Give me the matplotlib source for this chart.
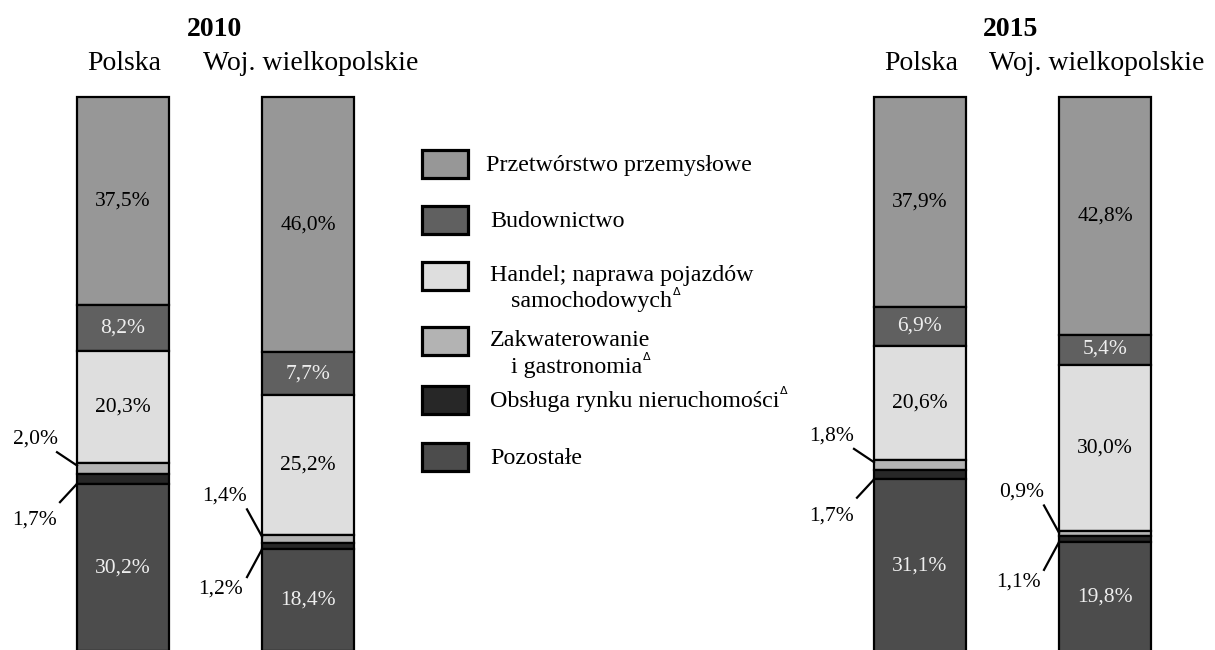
import matplotlib
matplotlib.use("Agg")
import matplotlib.pyplot as plt
from matplotlib.patches import Rectangle

plt.rcParams['font.family'] = ['Liberation Serif', 'DejaVu Serif']

# ------------------------------------------------------------
# Data (shares of employment, %)
# ------------------------------------------------------------
SECTORS = ['Przetwórstwo przemysłowe', 'Budownictwo',
           'Handel; naprawa pojazdów samochodowych',
           'Zakwaterowanie i gastronomia',
           'Obsługa rynku nieruchomości', 'Pozostałe']

YEARS = ['2010', '2015']
REGIONS = ['Polska', 'Woj. wielkopolskie']

POLSKA_2010 = [37.5, 8.2, 20.3, 2.0, 1.7, 30.2]
WOJ_2010 = [46.0, 7.7, 25.2, 1.4, 1.2, 18.4]
POLSKA_2015 = [37.9, 6.9, 20.6, 1.8, 1.7, 31.1]
WOJ_2015 = [42.8, 5.4, 30.0, 0.9, 1.1, 19.8]

# legend text, split as in the original (second line indented)
LEGEND_LINES = [
    ['Przetwórstwo przemysłowe'],
    ['Budownictwo'],
    ['Handel; naprawa pojazdów', 'samochodowych'],
    ['Zakwaterowanie', 'i gastronomia'],
    ['Obsługa rynku nieruchomości'],
    ['Pozostałe'],
]
LEGEND_DELTA = [False, False, True, True, True, False]

# ------------------------------------------------------------
# Styles / layout
# ------------------------------------------------------------
COLORS = ['#979797', '#606060', '#dedede', '#b3b3b3', '#272727', '#4c4c4c']
LABEL_COLORS = ['black', '#eeeeee', 'black', 'black', 'black', '#eeeeee']

W, H = 1215, 650
BAR_W = 92
BAR_TOP_PX = 97
PX_PER_PCT = 5.55

bars = [
    (123, POLSKA_2010, 'pl'),
    (308, WOJ_2010, 'woj'),
    (920, POLSKA_2015, 'pl'),
    (1105, WOJ_2015, 'woj'),
]

# leader-line layout (x offsets in px from bar left edge, y offsets in %)
LEADER = {
    'pl':  dict(up_text=(-42, -4.3), up_start=(-20, -2.0), up_end=(0, 0.4),
                lo_text=(-42, 6.6), lo_start=(-17, 3.3)),
    'woj': dict(up_text=(-37, -7.0), up_start=(-15, -4.6), up_end=(0, 0.3),
                lo_text=(-41, 7.2), lo_start=(-15, 5.0)),
}


def pct(v):
    return f"{v:.1f}".replace('.', ',') + '%'


def fy(py):
    return 1 - py / H


fig = plt.figure(figsize=(W / 100, H / 100), dpi=100)
ax = fig.add_axes([0, 0, 1, 1])
ax.set_xlim(0, W)
# y = cumulative percent from the top of the bar, axis inverted
ax.set_ylim((H - BAR_TOP_PX) / PX_PER_PCT, -BAR_TOP_PX / PX_PER_PCT)
ax.axis('off')

for xc, vals, kind in bars:
    cum = 0.0
    tops = []
    for i, v in enumerate(vals):
        ax.bar(xc, v, bottom=cum, width=BAR_W, color=COLORS[i],
               edgecolor='black', linewidth=1.6, zorder=2)
        tops.append(cum)
        if i not in (3, 4):
            ax.text(xc, cum + v / 2, pct(v), ha='center', va='center',
                    fontsize=15.5, color=LABEL_COLORS[i], zorder=3)
        cum += v

    # external labels for the two thin segments
    left = xc - BAR_W / 2
    lay = LEADER[kind]
    zt = tops[3]
    ob = tops[4] + vals[4]
    ax.plot([left + lay['up_start'][0], left + lay['up_end'][0]],
            [zt + lay['up_start'][1], zt + lay['up_end'][1]],
            color='black', lw=1.6, zorder=3, clip_on=False)
    ax.text(left + lay['up_text'][0], zt + lay['up_text'][1], pct(vals[3]),
            ha='center', va='center', fontsize=15.5)
    ax.plot([left + lay['lo_start'][0], left],
            [ob + lay['lo_start'][1], ob],
            color='black', lw=1.6, zorder=3, clip_on=False)
    ax.text(left + lay['lo_text'][0], ob + lay['lo_text'][1], pct(vals[4]),
            ha='center', va='center', fontsize=15.5)

# headings
fig.text(214 / W, fy(36.5), YEARS[0], ha='center', va='baseline',
         fontsize=20, fontweight='bold')
fig.text(1011 / W, fy(36.5), YEARS[1], ha='center', va='baseline',
         fontsize=20, fontweight='bold')
for xc, name in [(124, REGIONS[0]), (311, REGIONS[1]),
                 (921, REGIONS[0]), (1097, REGIONS[1])]:
    fig.text(xc / W, fy(69.5), name, ha='center', va='baseline', fontsize=20)

# legend drawn by hand
legend_y = [164, 220, 276, 341, 400, 457]
for i, yc in enumerate(legend_y):
    fig.patches.append(Rectangle((422 / W, fy(yc + 14)), 46 / W, 28 / H,
                                 transform=fig.transFigure,
                                 facecolor=COLORS[i], edgecolor='black',
                                 linewidth=2.3))
    lines = LEGEND_LINES[i]
    if len(lines) == 1:
        t = fig.text(486 / W if i == 0 else 490 / W, fy(yc + 1), lines[0],
                     ha='left', va='center', fontsize=17.3)
    else:
        fig.text(490 / W, fy(yc - 1), lines[0], ha='left', va='center',
                 fontsize=17.3)
        t = fig.text(511 / W, fy(yc + 26), lines[1], ha='left', va='center',
                     fontsize=17.3)
    if LEGEND_DELTA[i]:
        ax.annotate('Δ', xy=(1, 1), xycoords=t, xytext=(0.5, 3),
                    textcoords='offset points', ha='left', va='top',
                    fontsize=8, family='DejaVu Sans')

fig.savefig('out.png', dpi=100)
